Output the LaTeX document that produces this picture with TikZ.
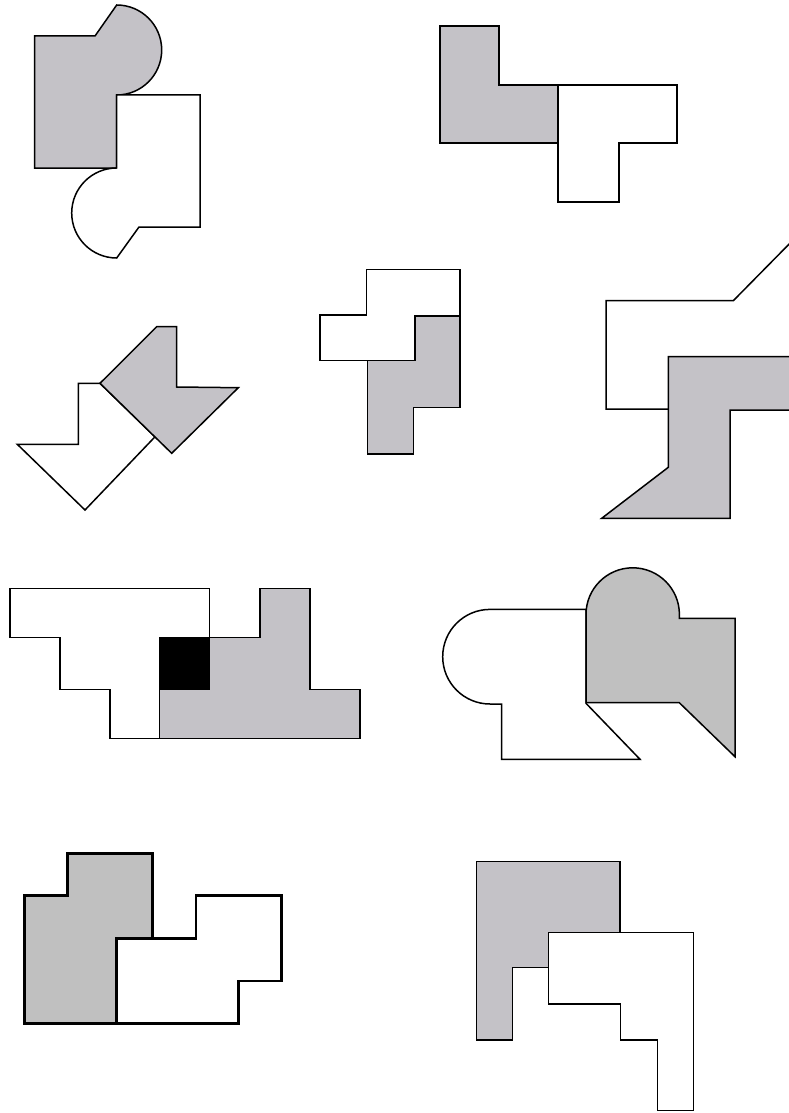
\documentclass[tikz,border=0pt]{standalone}
\usepackage{tikz}
\definecolor{tileGray}{RGB}{196,194,199}
\definecolor{tileGrayB}{RGB}{192,192,192}

\begin{document}
\begin{tikzpicture}[
  x=1pt, y=-1pt,
  piece/.style={draw, line width=1.5pt, line join=miter},
  shaded/.style={piece, fill=tileGray},
  blank/.style={piece, fill=white},
  heavy/.style={line width=2.6pt}
]

\useasboundingbox (0,0) rectangle (789,1113);
\fill[white] (0,0) rectangle (789,1113);
\clip (0,0) rectangle (789,1113);

% Row 1, left: rectangles with half discs
\draw[shaded] (34.5,36) -- (95,36) -- (116.7,5)
  arc[start angle=90, end angle=-90, radius=45pt] -- (116.7,168) -- (34.5,168) -- cycle;
\draw[blank] (116.7,95) -- (200,95) -- (200,227) -- (139,227) -- (116.7,258)
  arc[start angle=-90, end angle=-270, radius=45pt] -- cycle;

% Row 1, right: two L pieces
\draw[shaded] (440,26) -- (499,26) -- (499,85) -- (558,85) -- (558,143) -- (440,143) -- cycle;
\draw[blank] (558,85) -- (677,85) -- (677,143) -- (619,143) -- (619,202) -- (558,202) -- cycle;

% Row 2, left: tilted pieces
\draw[blank] (78.3,383.3) -- (100,383.3) -- (155,436.8) -- (85,510)
  -- (17.3,444.3) -- (78.3,444.3) -- cycle;
\draw[shaded] (156.7,326.7) -- (176.7,326.7) -- (176.7,387) -- (238.3,387.7)
  -- (171.7,453.3) -- (100,383.3) -- cycle;

% Row 2, middle: stacked steps
\draw[blank] (366.7,269.3) -- (460,269.3) -- (460,316) -- (415,316) -- (415,360.7)
  -- (320,360.7) -- (320,315) -- (366.7,315) -- cycle;
\draw[shaded] (415,316) -- (460,316) -- (460,407.3) -- (413.3,407.3) -- (413.3,454)
  -- (367.3,454) -- (367.3,360.7) -- (415,360.7) -- cycle;

% Row 2, right: pieces cut by the edge
\draw[piece] (668.3,409) -- (606,409) -- (606,300.7) -- (733.3,300.7) -- (800,233);
\draw[shaded] (668.3,356.7) -- (800,356.7) -- (800,410) -- (730,410) -- (730,518.3)
  -- (601.7,518.3) -- (668.3,467.3) -- cycle;

% Row 3, left: staircases with black square
\draw[blank] (10,588.3) -- (209.3,588.3) -- (209.3,637.7) -- (159.3,637.7) -- (159.3,738.3)
  -- (110,738.3) -- (110,689.3) -- (60,689.3) -- (60,637.7) -- (10,637.7) -- cycle;
\draw[shaded] (260,588.3) -- (310,588.3) -- (310,689.3) -- (360,689.3) -- (360,738.3)
  -- (159.3,738.3) -- (159.3,689.3) -- (209.3,689.3) -- (209.3,637.7) -- (260,637.7) -- cycle;
\draw[piece, fill=black] (159.3,637.7) rectangle (209.3,689.3);

% Row 3, right: half discs and slanted feet
\draw[blank] (490,609.3) -- (586,609.3) -- (586,703.3) -- (640,759.3) -- (501.7,759.3)
  -- (501.7,704) -- (490,704) arc[start angle=-90, end angle=-270, radius=47.3pt] -- cycle;
\draw[shaded, fill=tileGrayB] (586,702.7) -- (586,614.5)
  arc[start angle=180, end angle=0, radius=46.7pt] -- (679.3,618.3) -- (735,618.3)
  -- (735,756.7) -- (679.3,702.7) -- cycle;

% Row 4, left: thick outlines
\draw[shaded, fill=tileGrayB, heavy] (67.7,853.3) -- (152.3,853.3) -- (152.3,938.5)
  -- (116.7,938.5) -- (116.7,1023.3) -- (24.3,1023.3) -- (24.3,895.7) -- (67.7,895.7) -- cycle;
\draw[blank, heavy] (116.7,938.5) -- (196,938.5) -- (196,895.7) -- (281.7,895.7)
  -- (281.7,981) -- (238.3,981) -- (238.3,1023.3) -- (116.7,1023.3) -- cycle;

% Row 4, right: hook pieces
\draw[shaded] (476.7,861.7) -- (620,861.7) -- (620,932.5) -- (548.3,932.5) -- (548.3,967.3)
  -- (512.7,967.3) -- (512.7,1040) -- (476.7,1040) -- cycle;
\draw[blank] (548.3,932.5) -- (693.3,932.5) -- (693.3,1110.7) -- (657.7,1110.7)
  -- (657.7,1040) -- (620.7,1040) -- (620.7,1004) -- (548.3,1004) -- cycle;

\end{tikzpicture}
\end{document}
